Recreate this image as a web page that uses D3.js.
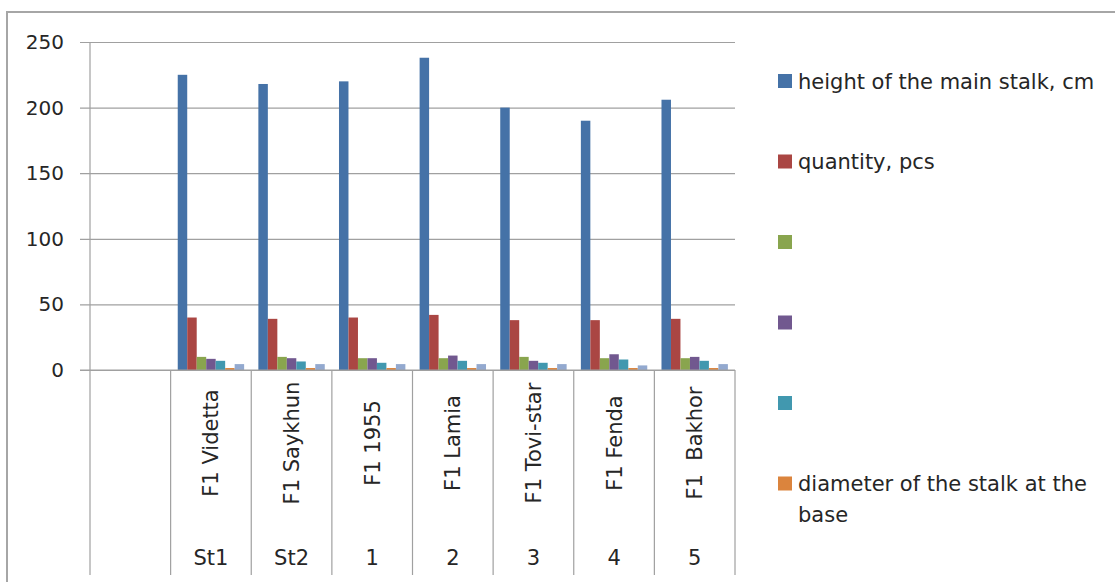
<!DOCTYPE html>
<html>
<head>
<meta charset="utf-8">
<script src="https://cdn.jsdelivr.net/npm/d3@7"></script>
<style>
  html, body { margin: 0; padding: 0; background: #fff; }
  svg { display: block; }
  text { font-family: "DejaVu Sans", sans-serif; fill: #262626; }
</style>
</head>
<body>
<svg id="chart" width="1115" height="582"></svg>
<script>
// ---- data ----
const categories = ["", "F1 Videtta", "F1 Saykhun", "F1 1955", "F1 Lamia", "F1 Tovi-star", "F1 Fenda", "F1  Bakhor"];
const groups = ["", "St1", "St2", "1", "2", "3", "4", "5"];
const seriesNames = ["height of the main stalk, cm", "quantity, pcs", "", "", "", "diameter of the stalk at the base", ""];
const heightMain = [null, 225, 218, 220, 238, 200, 190, 206];
const quantity   = [null, 40, 39, 40, 42, 38, 38, 39];
const seriesGreen  = [null, 10, 10, 9, 9, 10, 9, 9];
const seriesPurple = [null, 8.5, 9, 9, 11, 7, 12, 10];
const seriesTeal   = [null, 7, 6.5, 5.5, 7, 5.5, 8, 7];
const diameter     = [null, 1.5, 1.5, 1.5, 1.5, 1.5, 1.5, 1.5];
const seriesLight  = [null, 4.5, 4.5, 4.5, 4.5, 4.5, 3.5, 4.5];
const yTicks = [0, 50, 100, 150, 200, 250];

const seriesValues = [heightMain, quantity, seriesGreen, seriesPurple, seriesTeal, diameter, seriesLight];
const colors = ["#4572A7", "#AA4643", "#89A54E", "#71588F", "#4198AF", "#DB843D", "#93A9CF"];
const legendCount = 6; // the seventh entry is cut off in the original

// ---- layout ----
const svg = d3.select("#chart");
const plotL = 90, plotR = 735, plotT = 42, plotB = 370, axisBottom = 575;
const fsTick = 20, fs = 21;

// outer chart border
svg.append("rect")
  .attr("x", 7).attr("y", 12).attr("width", 1130).attr("height", 600)
  .attr("fill", "none").attr("stroke", "#a6a6a6").attr("stroke-width", 2);

const y = d3.scaleLinear().domain([0, 250]).range([plotB, plotT]);
const x0 = d3.scaleBand().domain(d3.range(categories.length)).range([plotL, plotR]).padding(0);
const x1 = d3.scaleBand().domain(d3.range(seriesValues.length)).range([0, x0.bandwidth()])
  .paddingInner(0).paddingOuter(0.75);

// gridlines + ticks
const yAxis = d3.axisLeft(y).tickValues(yTicks).tickSize(-(plotR - plotL)).tickFormat(d3.format("d"));
const gy = svg.append("g").attr("transform", `translate(${plotL},0)`).call(yAxis);
gy.select(".domain").remove();
gy.selectAll(".tick line").attr("stroke", "#a0a0a0").attr("x1", -10).attr("stroke-width", 1.2);
gy.selectAll(".tick text").attr("font-size", fsTick).attr("fill", "#262626").attr("x", -26)
  .attr("font-family", "'DejaVu Sans', sans-serif");

// bars
const barData = [];
seriesValues.forEach((arr, s) => arr.forEach((v, c) => { if (v != null) barData.push({ s, c, v }); }));
svg.append("g").selectAll("rect").data(barData).join("rect")
  .attr("x", d => x0(d.c) + x1(d.s))
  .attr("width", x1.bandwidth())
  .attr("y", d => y(d.v))
  .attr("height", d => y(0) - y(d.v))
  .attr("fill", d => colors[d.s]);

// category axis: baseline + separators
svg.append("line").attr("x1", plotL - 10).attr("x2", plotR).attr("y1", plotB).attr("y2", plotB)
  .attr("stroke", "#a0a0a0").attr("stroke-width", 1.2);
svg.append("line").attr("x1", plotL).attr("x2", plotL).attr("y1", plotT).attr("y2", axisBottom)
  .attr("stroke", "#a0a0a0").attr("stroke-width", 1.2);
const bounds = d3.range(categories.length + 1).map(i => i < categories.length ? x0(i) : plotR);
svg.append("g").selectAll("line").data(bounds.slice(1)).join("line")
  .attr("x1", d => d).attr("x2", d => d).attr("y1", plotB).attr("y2", axisBottom)
  .attr("stroke", "#a0a0a0").attr("stroke-width", 1.2);

// inner rotated labels
svg.append("g").selectAll("text").data(categories).join("text")
  .attr("transform", (d, i) => `translate(${x0(i) + x0.bandwidth() / 2 + 7.5},443) rotate(-90)`)
  .attr("text-anchor", "middle")
  .attr("font-size", fs)
  .style("white-space", "pre")
  .text(d => d);

// outer group labels
svg.append("g").selectAll("text").data(groups).join("text")
  .attr("x", (d, i) => x0(i) + x0.bandwidth() / 2)
  .attr("y", 565)
  .attr("text-anchor", "middle")
  .attr("font-size", fs)
  .text(d => d);

// legend
const legendY = d3.scaleLinear().domain([0, 1]).range([81, 161.5]);
const lg = svg.append("g");
for (let i = 0; i < legendCount; i++) {
  const cy = legendY(i);
  lg.append("rect").attr("x", 778).attr("y", cy - 7).attr("width", 14).attr("height", 14).attr("fill", colors[i]);
  const name = seriesNames[i];
  if (!name) continue;
  const t = lg.append("text").attr("x", 798).attr("y", cy + 7.5).attr("font-size", fs);
  if (name === "diameter of the stalk at the base") {
    t.append("tspan").attr("x", 798).text("diameter of the stalk at the");
    t.append("tspan").attr("x", 798).attr("dy", 31).text("base");
  } else {
    t.text(name);
  }
}
</script>
</body>
</html>
